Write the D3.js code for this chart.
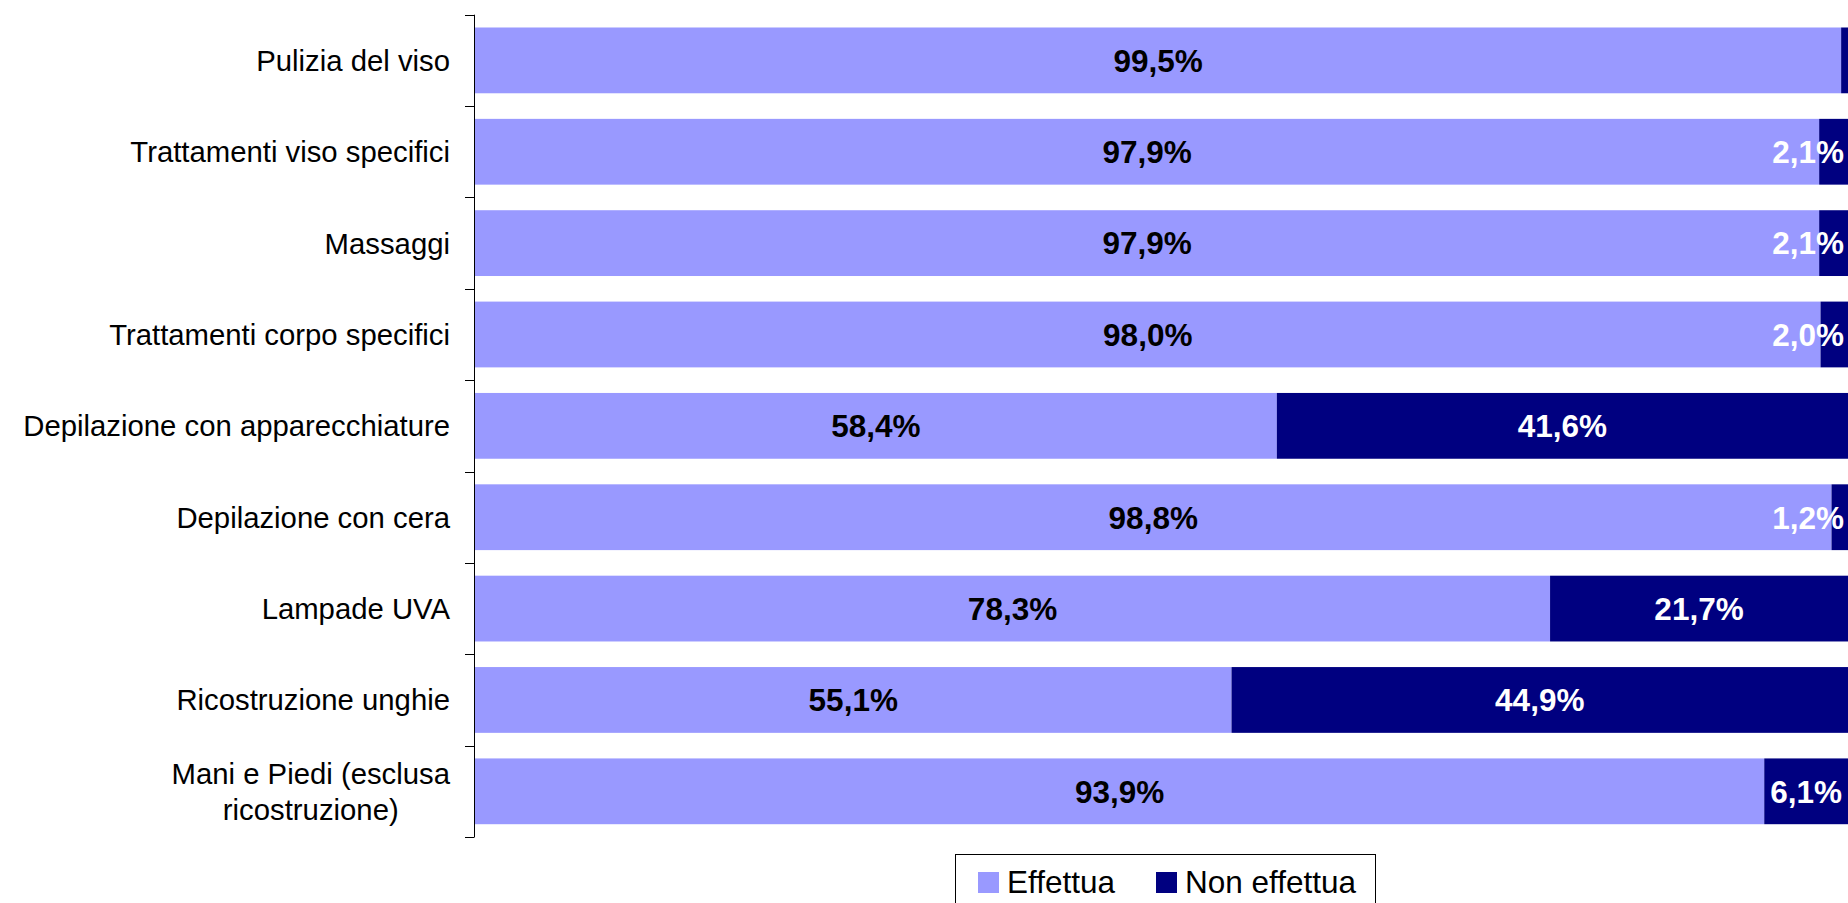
<!DOCTYPE html>
<html>
<head>
<meta charset="utf-8">
<script src="https://cdn.jsdelivr.net/npm/d3@7"></script>
<style>
  body { margin: 0; background: #fff; }
  svg { display: block; font-family: "Liberation Sans", Arial, sans-serif; }
</style>
</head>
<body>
<div id="chart"></div>
<script>
// categories, top to bottom
var categories = [
    "Pulizia del viso",
    "Trattamenti viso specifici",
    "Massaggi",
    "Trattamenti corpo specifici",
    "Depilazione con apparecchiature",
    "Depilazione con cera",
    "Lampade UVA",
    "Ricostruzione unghie",
    "Mani e Piedi (esclusa|ricostruzione)"
];
var effettua    = [99.5, 97.9, 97.9, 98.0, 58.4, 98.8, 78.3, 55.1, 93.9];
var nonEffettua = [0.5, 2.1, 2.1, 2.0, 41.6, 1.2, 21.7, 44.9, 6.1];
var seriesNames = ["Effettua", "Non effettua"];
var colors = ["#9999ff", "#000080"];

var W = 1848, H = 903;
var margin = { top: 14.7, right: 0, bottom: 66, left: 474 };

var svg = d3.select('#chart').append('svg')
    .attr('width', W)
    .attr('height', H);

var x = d3.scaleLinear()
    .domain([0, 100])
    .range([margin.left + 1, W - margin.right]);

var y = d3.scaleBand()
    .domain(categories)
    .range([margin.top, H - margin.bottom])
    .paddingInner(0.28)
    .paddingOuter(0.14);

var data = categories.map(function (c, i) {
    return { cat: c, vals: [effettua[i], nonEffettua[i]] };
});

// barre impilate
var rows = svg.selectAll('.row')
    .data(data)
    .enter()
    .append('g')
    .attr('class', 'row');

rows.each(function (d) {
    var g = d3.select(this);
    var start = 0;
    d.vals.forEach(function (v, k) {
        g.append('rect')
            .attr('x', x(start))
            .attr('y', y(d.cat))
            .attr('width', x(start + v) - x(start))
            .attr('height', y.bandwidth())
            .attr('fill', colors[k]);
        d['s' + k] = start;
        start += v;
    });
});

// etichette valori
rows.each(function (d) {
    var g = d3.select(this);
    d.vals.forEach(function (v, k) {
        if (v < 1) return;
        var cx = (x(d['s' + k]) + x(d['s' + k] + v)) / 2;
        var t = g.append('text')
            .attr('x', cx)
            .attr('y', y(d.cat) + y.bandwidth() / 2)
            .attr('dy', '0.36em')
            .attr('text-anchor', 'middle')
            .style('font-size', '31.5px')
            .style('font-weight', 'bold')
            .style('fill', k === 0 ? '#000' : '#fff')
            .text(v.toFixed(1).replace('.', ',') + '%');
        var w = t.node().getComputedTextLength();
        if (cx + w / 2 > W - 4) t.attr('x', W - 4 - w / 2);
    });
});

// asse Y
var axis = svg.append('g').attr('stroke', '#000').attr('stroke-width', 1);
axis.append('line')
    .attr('x1', margin.left + 0.5).attr('x2', margin.left + 0.5)
    .attr('y1', margin.top).attr('y2', H - margin.bottom);
var step = y.step();
d3.range(categories.length + 1).forEach(function (i) {
    var ty = Math.round(margin.top + i * step) + 0.5;
    axis.append('line')
        .attr('x1', margin.left - 9).attr('x2', margin.left + 0.5)
        .attr('y1', ty).attr('y2', ty);
});

// etichette categorie
categories.forEach(function (c) {
    var lines = c.split('|');
    var cy = y(c) + y.bandwidth() / 2;
    var t = svg.append('text')
        .style('font-size', '29.3px')
        .style('fill', '#000')
        .attr('text-anchor', 'middle');
    lines.forEach(function (l, i) {
        t.append('tspan')
            .attr('y', cy + (i - (lines.length - 1) / 2) * 36)
            .attr('dy', '0.36em')
            .text(l);
    });
    var maxW = 0;
    t.selectAll('tspan').each(function () {
        maxW = Math.max(maxW, this.getComputedTextLength());
    });
    t.selectAll('tspan').attr('x', 450 - maxW / 2);
});

// legenda
var leg = svg.append('g');
leg.append('rect')
    .attr('x', 955.5).attr('y', 854.5)
    .attr('width', 420).attr('height', 60)
    .attr('fill', '#fff').attr('stroke', '#000');
var legX = [978, 1156];
seriesNames.forEach(function (s, i) {
    leg.append('rect')
        .attr('x', legX[i]).attr('y', 872)
        .attr('width', 21).attr('height', 21)
        .attr('fill', colors[i]);
    leg.append('text')
        .attr('x', legX[i] + 29)
        .attr('y', 893)
        .style('font-size', '31.5px')
        .style('fill', '#000')
        .text(s);
});
</script>
</body>
</html>
